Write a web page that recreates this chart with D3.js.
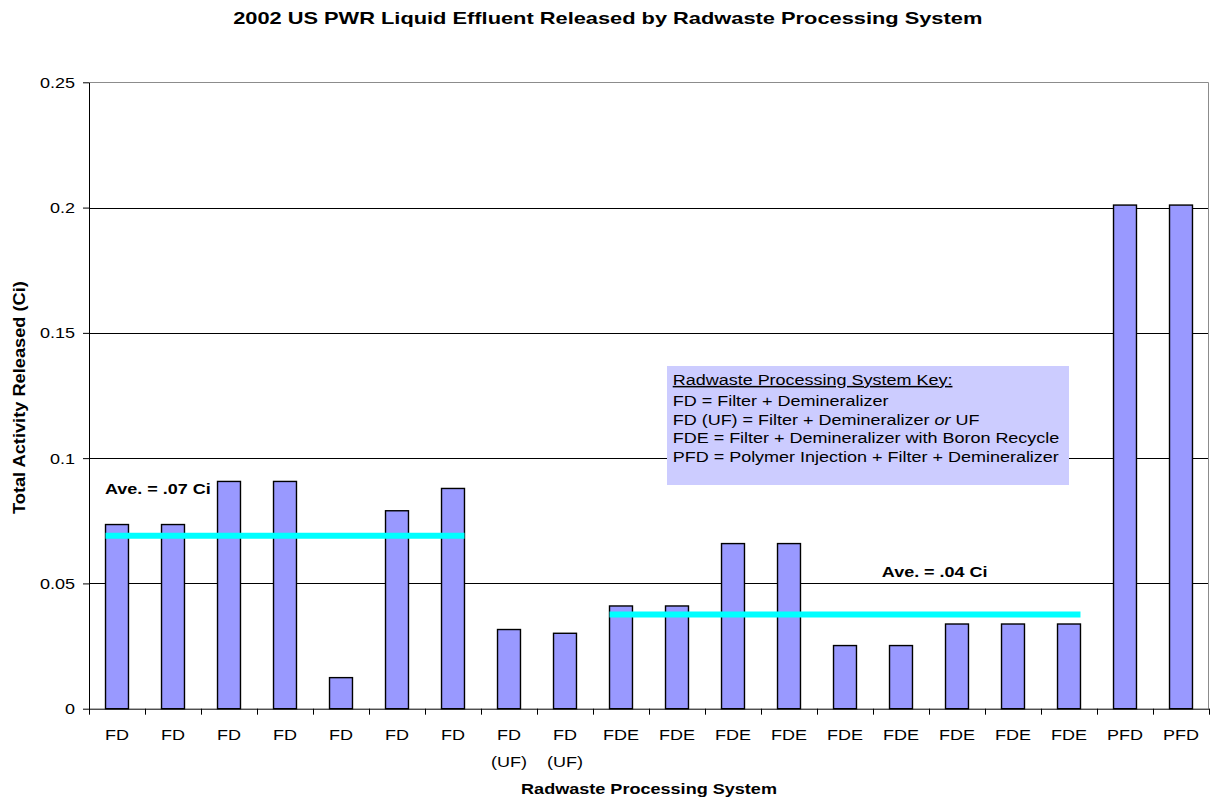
<!DOCTYPE html>
<html>
<head>
<meta charset="utf-8">
<script src="https://cdn.jsdelivr.net/npm/d3@7"></script>
<style>
  body { margin: 0; background: #fff; }
  svg { display: block; }
  text { font-family: Arial, "Liberation Sans", Helvetica, sans-serif; fill: #000; }
</style>
</head>
<body>
<svg id="chart" width="1210" height="801"></svg>
<script>
// Radwaste processing system of each plant (bar labels)
const categories = ["FD", "FD", "FD", "FD", "FD", "FD", "FD", "FD (UF)", "FD (UF)",
  "FDE", "FDE", "FDE", "FDE", "FDE", "FDE", "FDE", "FDE", "FDE", "PFD", "PFD"];
// Total activity released per plant, Ci
const activity = [0.0735, 0.0735, 0.0907, 0.0907, 0.0124, 0.079, 0.0879, 0.0316, 0.0301,
  0.041, 0.041, 0.0659, 0.0659, 0.0252, 0.0252, 0.0338, 0.0338, 0.0338, 0.201, 0.201];
// Value axis ticks
const yTicks = [0, 0.05, 0.1, 0.15, 0.2, 0.25];
const yTickLabels = ["0", "0.05", "0.1", "0.15", "0.2", "0.25"];
// Group averages: value, label, first and last plant covered
const averageValues = [0.069, 0.0376];
const averageLabels = ["Ave. = .07 Ci", "Ave. = .04 Ci"];
const averageFirst = [0, 9];
const averageLast = [6, 17];
// Key text
const keyTitle = "Radwaste Processing System Key:";
const keyLines = [
  ["FD = Filter + Demineralizer"],
  ["FD (UF) = Filter + Demineralizer ", "or", " UF"],
  ["FDE = Filter + Demineralizer with Boron Recycle"],
  ["PFD = Polymer Injection + Filter + Demineralizer"]
];

const SX = 1.2;           // horizontal stretch of the lettering
const svg = d3.select("#chart");
const plot = { left: 89, right: 1209, top: 82.3, bottom: 708.7 };

const x = d3.scaleBand()
  .domain(d3.range(categories.length))
  .range([plot.left, plot.right])
  .paddingInner(0.59)
  .paddingOuter(0.295);
const xEdge = d3.scaleLinear().domain([0, categories.length]).range([plot.left, plot.right]);
const y = d3.scaleLinear().domain([0, 0.25]).range([plot.bottom, plot.top]);

function stretchedText(parent, px, py, str, opts = {}) {
  const t = parent.append("text")
    .attr("text-anchor", opts.anchor || "start")
    .style("font-size", (opts.size || 15) + "px")
    .style("font-weight", opts.bold ? "bold" : "normal")
    .text(str);
  // stretch either by a fixed factor or to fill a given length
  const sx = opts.fit ? opts.fit / t.node().getComputedTextLength() : SX;
  t.attr("transform", `translate(${px},${py})${opts.rotate ? ` rotate(${opts.rotate})` : ""} scale(${sx},1)`);
  return t;
}

// Horizontal gridlines
svg.append("g")
  .selectAll("line")
  .data(yTicks.filter(d => d > 0 && d < 0.25))
  .join("line")
  .attr("x1", plot.left).attr("x2", plot.right)
  .attr("y1", d => Math.round(y(d)) + 0.5).attr("y2", d => Math.round(y(d)) + 0.5)
  .attr("stroke", "#000")
  .attr("stroke-width", 1);

// Plot area border (top and right), grey
svg.append("path")
  .attr("d", `M${plot.left},${Math.round(plot.top) + 0.5}H${plot.right - 0.5}V${plot.bottom}`)
  .attr("fill", "none")
  .attr("stroke", "#8c8c8c")
  .attr("stroke-width", 1);

// Bars
svg.append("g")
  .selectAll("rect")
  .data(activity)
  .join("rect")
  .attr("x", (d, i) => x(i))
  .attr("y", d => y(d))
  .attr("width", x.bandwidth())
  .attr("height", d => y(0) - y(d))
  .attr("fill", "#9999ff")
  .attr("stroke", "#000")
  .attr("stroke-width", 1.4);

// Group average lines
svg.append("g")
  .selectAll("line")
  .data(averageValues)
  .join("line")
  .attr("x1", (d, i) => x(averageFirst[i]))
  .attr("x2", (d, i) => x(averageLast[i]) + x.bandwidth())
  .attr("y1", d => y(d)).attr("y2", d => y(d))
  .attr("stroke", "#00ffff")
  .attr("stroke-width", 6);

// Y axis
const yAxis = svg.append("g")
  .attr("transform", `translate(${plot.left},0)`)
  .call(d3.axisLeft(y).tickValues(yTicks).tickSize(6).tickSizeOuter(0)
    .tickFormat((d, i) => yTickLabels[i]));
yAxis.select(".domain").attr("stroke", "#000");
yAxis.selectAll(".tick line").attr("stroke", "#000");
yAxis.selectAll(".tick text")
  .attr("x", -14 / SX)
  .attr("dy", "0.34em")
  .attr("transform", `scale(${SX},1)`)
  .style("font-size", "15px")
  .style("font-family", "Arial, 'Liberation Sans', sans-serif");

// X axis: tick marks on category boundaries
const xTicks = svg.append("g")
  .attr("transform", `translate(0,${plot.bottom})`)
  .call(d3.axisBottom(xEdge).tickValues(d3.range(categories.length + 1)).tickSize(6)
    .tickSizeOuter(0).tickFormat(""));
xTicks.select(".domain").attr("stroke", "#000");
xTicks.selectAll(".tick line").attr("stroke", "#000");

// X axis: category labels, "(UF)" wrapped to a second line
const xLabels = svg.append("g")
  .attr("transform", `translate(0,${plot.bottom})`)
  .call(d3.axisBottom(x).tickSize(0).tickFormat(i => categories[i]));
xLabels.select(".domain").remove();
xLabels.selectAll(".tick text").each(function (i) {
  const t = d3.select(this);
  const parts = categories[i].split(" ");
  t.text(null)
    .attr("y", 0).attr("dy", null)
    .attr("transform", `scale(${SX},1)`)
    .style("font-size", "15px")
    .style("font-family", "Arial, 'Liberation Sans', sans-serif");
  parts.forEach((p, k) => {
    t.append("tspan").attr("x", 0).attr("y", 31.5 + k * 27).text(p);
  });
});

// Group average labels
stretchedText(svg, 105, 494, averageLabels[0], { bold: true });
stretchedText(svg, 934.7, 577, averageLabels[1], { bold: true, anchor: "middle" });

// Key box
const key = svg.append("g");
key.append("rect")
  .attr("x", 667).attr("y", 366)
  .attr("width", 402).attr("height", 119)
  .attr("fill", "#ccccff");
stretchedText(key, 672.7, 385, keyTitle).style("text-decoration", "underline");
const keyBase = [406, 424.5, 443, 461.5];
keyLines.forEach((parts, k) => {
  const t = stretchedText(key, 672.7, keyBase[k], "");
  parts.forEach((p, j) => {
    t.append("tspan").style("font-style", j === 1 ? "italic" : "normal").text(p);
  });
});

// Titles
stretchedText(svg, 607.7, 23.5, "2002 US PWR Liquid Effluent Released by Radwaste Processing System",
  { bold: true, anchor: "middle", size: 17, fit: 750 });
stretchedText(svg, (plot.left + plot.right) / 2, 794, "Radwaste Processing System",
  { bold: true, anchor: "middle", fit: 256 });
stretchedText(svg, 25, 397.6, "Total Activity Released (Ci)",
  { bold: true, anchor: "middle", rotate: -90, size: 16, fit: 233 });
</script>
</body>
</html>
